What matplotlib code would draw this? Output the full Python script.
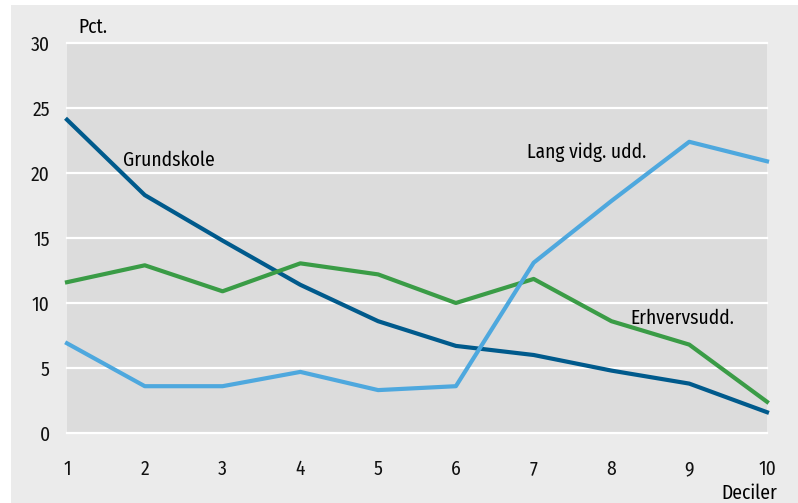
import matplotlib
matplotlib.use("Agg")
import matplotlib.pyplot as plt
from matplotlib.patches import Rectangle

plt.rcParams['font.family'] = ['Fira Sans Condensed', 'DejaVu Sans']

deciles = [1, 2, 3, 4, 5, 6, 7, 8, 9, 10]
grundskole = [24.1, 18.3, 14.8, 11.4, 8.6, 6.7, 6.0, 4.8, 3.8, 1.6]
erhvervsudd = [11.6, 12.9, 10.9, 13.05, 12.2, 10.0, 11.85, 8.6, 6.8, 2.4]
lang_vidg = [6.9, 3.6, 3.6, 4.7, 3.3, 3.6, 13.1, 17.85, 22.4, 20.9]
yticks = [0, 5, 10, 15, 20, 25, 30]

W, H = 798, 503
fs = 14
fig = plt.figure(figsize=(W / 100, H / 100), dpi=100)
fig.patch.set_facecolor("white")
# light grey panel behind everything, leaving a thin white margin top and left
fig.patches.append(Rectangle((11 / W, 0), 1 - 11 / W, 1 - 5 / H,
                             transform=fig.transFigure, facecolor="#ebebeb",
                             edgecolor="none", zorder=-10))

ax = fig.add_axes([67 / W, 1 - 433 / H, 700 / W, 390 / H])
ax.set_facecolor("#dcdcdc")
for s in ax.spines.values():
    s.set_visible(False)

ax.set_xlim(1, 10)
ax.set_ylim(0, 30)
ax.set_yticks(yticks)
ax.set_xticks(deciles)
ax.tick_params(length=0, labelsize=fs, colors="#111111")
ax.tick_params(axis="y", pad=12.5)
ax.tick_params(axis="x", pad=19)
for y in yticks:
    ax.axhline(y, color="white", lw=1.6, zorder=1, clip_on=False)

lw = 3.0
ax.plot(deciles, grundskole, color="#005a8c", lw=lw, zorder=3, clip_on=False)
ax.plot(deciles, erhvervsudd, color="#3a9c46", lw=lw, zorder=3, clip_on=False)
ax.plot(deciles, lang_vidg, color="#4ea8de", lw=lw, zorder=3, clip_on=False)

ax.text(1.72, 21.0, "Grundskole", fontsize=fs, ha="left", va="center")
ax.text(6.91, 21.6, "Lang vidg. udd.", fontsize=fs, ha="left", va="center")
ax.text(8.24, 8.85, "Erhvervsudd.", fontsize=fs, ha="left", va="center")

fig.text(78 / W, 1 - 27 / H, "Pct.", fontsize=fs, ha="left", va="center")
fig.text(777 / W, 1 - 493 / H, "Deciler", fontsize=fs, ha="right", va="center")

fig.savefig("out.png", dpi=100)
